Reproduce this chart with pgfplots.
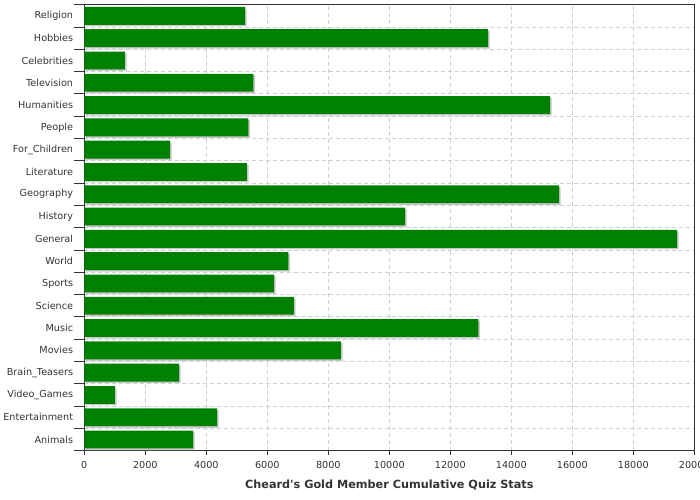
\documentclass[border=0pt]{standalone}
\usepackage{fontspec}
\setmainfont{DejaVu Sans}
\newfontfamily\labelfont{DejaVu Sans}
\usepackage{pgfplots}
\pgfplotsset{compat=1.18}
\definecolor{bargreen}{HTML}{008000}
\definecolor{shadowgray}{HTML}{C8C8C8}
\definecolor{gridc}{HTML}{C8D0D8}
\definecolor{txt}{HTML}{333333}
\begin{document}
\begin{tikzpicture}
\path[use as bounding box] (0,0) rectangle (700bp,500bp);
\begin{axis}[
  at={(84.3bp,49.3bp)}, anchor=south west,
  scale only axis, width=610bp, height=446bp,
  xbar, bar width=0.8, bar shift=0pt,
  xmin=0, xmax=20000, ymin=-0.5, ymax=19.5,
  xtick={0,2000,...,20000},
  ytick={0,...,19},
  yticklabels={Animals,Entertainment,Video\_Games,Brain\_Teasers,Movies,Music,Science,Sports,World,General,History,Geography,Literature,For\_Children,People,Humanities,Television,Celebrities,Hobbies,Religion},
  minor ytick={-0.5,0.5,...,19.5},
  tick align=outside,
  major tick length=4bp, minor tick length=10bp,
  major y tick style={draw=none},
  minor y tick style={draw=txt, line width=0.8bp},
  major x tick style={draw=txt, line width=0.8bp},
  xtick pos=bottom, ytick pos=left,
  xmajorgrids, yminorgrids,
  major grid style={gridc, line width=0.8bp, dash pattern=on 4bp off 3bp},
  minor grid style={gridc, line width=0.8bp, dash pattern=on 4bp off 3bp},
  axis line style={txt, line width=1bp},
  /pgf/number format/assume math mode=true,
  /pgf/number format/1000 sep={},
  scaled x ticks=false,
  ticklabel style={font=\fontsize{9.7}{11}\selectfont, text=txt},
  yticklabel style={inner sep=0pt, xshift=-7bp},
  xticklabel style={inner sep=0pt, yshift=-6bp},
  xlabel={Cheard's Gold Member Cumulative Quiz Stats},
  xlabel style={font=\labelfont\bfseries\fontsize{11.3}{13}\selectfont, text=txt, inner sep=0pt, yshift=-12bp},
]
\addplot[fill=shadowgray, draw=none, xshift=1.6bp, yshift=-1.6bp] coordinates {
(3564,0) (4351,1) (1006,2) (3105,3) (8416,4) (12918,5) (6875,6) (6220,7) (6689,8) (19433,9)
(10515,10) (15564,11) (5334,12) (2810,13) (5377,14) (15269,15) (5541,16) (1334,17) (13236,18) (5269,19)
};
\addplot[fill=bargreen, draw=none] coordinates {
(3564,0) (4351,1) (1006,2) (3105,3) (8416,4) (12918,5) (6875,6) (6220,7) (6689,8) (19433,9)
(10515,10) (15564,11) (5334,12) (2810,13) (5377,14) (15269,15) (5541,16) (1334,17) (13236,18) (5269,19)
};
\end{axis}
\end{tikzpicture}
\end{document}
